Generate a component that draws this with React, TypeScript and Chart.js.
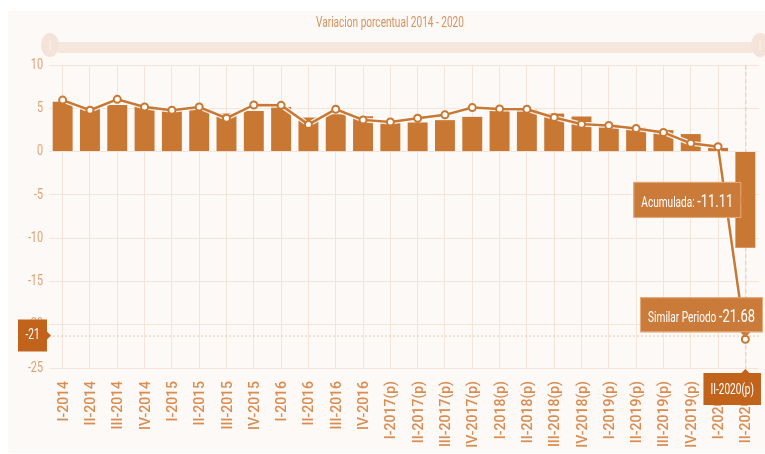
import { useEffect, useRef } from "react";
import { Chart, registerables } from "chart.js";

Chart.register(...registerables);

const titleText = "Variacion porcentual 2014 - 2020";
const categories = [
  "I-2014", "II-2014", "III-2014", "IV-2014",
  "I-2015", "II-2015", "III-2015", "IV-2015",
  "I-2016", "II-2016", "III-2016", "IV-2016",
  "I-2017(p)", "II-2017(p)", "III-2017(p)", "IV-2017(p)",
  "I-2018(p)", "II-2018(p)", "III-2018(p)", "IV-2018(p)",
  "I-2019(p)", "II-2019(p)", "III-2019(p)", "IV-2019(p)",
  "I-2020(p)", "II-2020(p)",
];
const acumulada = [
  5.75, 5.15, 5.38, 5.27, 4.77, 4.89, 4.39, 4.69, 5.15, 3.93, 4.31, 4.08,
  3.33, 3.36, 3.63, 4.01, 4.89, 4.89, 4.39, 4.05, 3.17, 2.79, 2.48, 2.02,
  0.42, -11.11,
];
const similarPeriodo = [
  5.95, 4.77, 6.03, 5.15, 4.77, 5.15, 3.85, 5.38, 5.34, 3.13, 4.89, 3.66,
  3.42, 3.85, 4.24, 5.08, 4.92, 4.89, 3.93, 3.17, 3.02, 2.67, 2.21, 0.95,
  0.57, -21.68,
];
const yTicks = [10, 5, 0, -5, -10, -15, -20, -25];
const seriesNames = ["Acumulada:", "Similar Periodo"];
const activeIndex = 25;
const pointerValue = -21.25;

const BAR = "#c97833";
const TIP = "#ca7a39";
const PTR = "#c2631c";
const GRID = "#f6e4d8";
const SQ = 0.72;
const FONT = "Roboto, 'Noto Sans', sans-serif";

function textW(ctx: CanvasRenderingContext2D, text: string, font: string) {
  ctx.save();
  ctx.font = font;
  const w = ctx.measureText(text).width * SQ;
  ctx.restore();
  return w;
}

function sqText(
  ctx: CanvasRenderingContext2D,
  text: string,
  x: number,
  y: number,
  font: string,
  color: string,
  align: "left" | "right" | "center",
  baseline: CanvasTextBaseline = "middle"
) {
  ctx.save();
  ctx.font = font;
  ctx.fillStyle = color;
  ctx.textBaseline = baseline;
  ctx.textAlign = "left";
  const w = ctx.measureText(text).width * SQ;
  let sx = x;
  if (align === "right") sx = x - w;
  else if (align === "center") sx = x - w / 2;
  ctx.translate(sx, y);
  ctx.scale(SQ, 1);
  ctx.fillText(text, 0, 0);
  ctx.restore();
  return w;
}

const decorPlugin = {
  id: "decor",
  beforeDraw(chart: any) {
    const ctx: CanvasRenderingContext2D = chart.ctx;
    ctx.save();
    ctx.fillStyle = "#ffffff";
    ctx.fillRect(0, 0, chart.width, chart.height);
    ctx.fillStyle = "#fcf9f7";
    ctx.fillRect(8, 11, chart.width - 8, chart.height - 12);
    ctx.fillStyle = "#f6e7dd";
    ctx.fillRect(58, 42, 694, 11);
    for (const hx of [50, 760]) {
      ctx.beginPath();
      ctx.ellipse(hx, 45, 9, 12, 0, 0, Math.PI * 2);
      ctx.fillStyle = "#f3e3d8";
      ctx.fill();
      ctx.strokeStyle = "#fbf3ee";
      ctx.lineWidth = 1;
      ctx.beginPath();
      ctx.moveTo(hx, 40);
      ctx.lineTo(hx, 50);
      ctx.stroke();
    }
    ctx.restore();
    sqText(ctx, titleText, 390, 26.5, `14px ${FONT}`, "#d6925f", "center", "alphabetic");
  },
  beforeDatasetsDraw(chart: any) {
    const ctx: CanvasRenderingContext2D = chart.ctx;
    const { chartArea, scales } = chart;
    const px = scales.x.getPixelForValue(activeIndex);
    const py = scales.y.getPixelForValue(pointerValue);
    ctx.save();
    ctx.strokeStyle = "#efc7a6";
    ctx.lineWidth = 1;
    ctx.setLineDash([4, 3]);
    ctx.beginPath();
    ctx.moveTo(px + 0.5, chartArea.top);
    ctx.lineTo(px + 0.5, chartArea.bottom + 2);
    ctx.stroke();
    ctx.setLineDash([2, 2]);
    ctx.beginPath();
    ctx.moveTo(chartArea.left, py + 0.5);
    ctx.lineTo(chartArea.right, py + 0.5);
    ctx.stroke();
    ctx.restore();
  },
  beforeDatasetDraw(chart: any, args: any) {
    if (args.index !== 1) return;
    const ctx: CanvasRenderingContext2D = chart.ctx;
    const pts = chart.getDatasetMeta(1).data;
    ctx.save();
    ctx.strokeStyle = "rgba(255,255,255,0.85)";
    ctx.lineWidth = 5;
    ctx.lineJoin = "round";
    ctx.beginPath();
    pts.forEach((p: any, i: number) => (i === 0 ? ctx.moveTo(p.x, p.y) : ctx.lineTo(p.x, p.y)));
    ctx.stroke();
    ctx.restore();
  },
  afterDraw(chart: any) {
    const ctx: CanvasRenderingContext2D = chart.ctx;
    const { chartArea, scales } = chart;
    for (const v of yTicks) {
      const y = scales.y.getPixelForValue(v);
      sqText(ctx, String(v), 43, y, `15px ${FONT}`, "#e0a06f", "right");
    }
    ctx.save();
    ctx.font = `500 14px ${FONT}`;
    ctx.fillStyle = "#da8b4f";
    ctx.textAlign = "right";
    ctx.textBaseline = "middle";
    categories.forEach((c, i) => {
      const x = scales.x.getPixelForValue(i);
      ctx.save();
      ctx.translate(x + 1.5, chartArea.bottom + 13);
      ctx.rotate(-Math.PI / 2);
      ctx.fillText(c, 0, 0);
      ctx.restore();
    });
    ctx.restore();

    const px = scales.x.getPixelForValue(activeIndex);
    const py = scales.y.getPixelForValue(pointerValue);

    ctx.save();
    ctx.fillStyle = PTR;
    ctx.beginPath();
    ctx.rect(18, py - 16, 29, 32);
    ctx.fill();
    ctx.beginPath();
    ctx.moveTo(47, py - 4);
    ctx.lineTo(51, py);
    ctx.lineTo(47, py + 4);
    ctx.fill();
    ctx.restore();
    sqText(ctx, String(Math.trunc(pointerValue)), 32.5, py, `14px ${FONT}`, "#ffffff", "center");

    const xl = categories[activeIndex];
    const xlw = textW(ctx, xl, `14px ${FONT}`) + 14;
    const xlx = Math.min(px - xlw / 2, chart.width - 4 - xlw);
    const xly = chartArea.bottom + 5;
    ctx.save();
    ctx.fillStyle = PTR;
    ctx.fillRect(xlx, xly, xlw, 32);
    ctx.beginPath();
    ctx.moveTo(px - 4, xly);
    ctx.lineTo(px, xly - 4);
    ctx.lineTo(px + 4, xly);
    ctx.fill();
    ctx.restore();
    sqText(ctx, xl, xlx + xlw / 2, xly + 17, `14px ${FONT}`, "#ffffff", "center");

    const bar = chart.getDatasetMeta(0).data[activeIndex];
    const v1 = acumulada[activeIndex].toFixed(2);
    const f1 = `14px ${FONT}`;
    const f2 = `18px ${FONT}`;
    const l1w = textW(ctx, seriesNames[0] + " ", f1);
    const v1w = textW(ctx, v1, f2);
    const b1w = l1w + v1w + 16;
    const b1h = 36;
    const b1cy = (bar.y + bar.base) / 2;
    const b1x = bar.x - 4 - b1w;
    const b1y = b1cy - b1h / 2;
    ctx.save();
    ctx.fillStyle = TIP;
    ctx.strokeStyle = "rgba(232,176,130,0.9)";
    ctx.lineWidth = 1;
    ctx.fillRect(b1x, b1y, b1w, b1h);
    ctx.strokeRect(b1x + 0.5, b1y + 0.5, b1w - 1, b1h - 1);
    ctx.beginPath();
    ctx.moveTo(b1x + b1w, b1cy - 5);
    ctx.lineTo(b1x + b1w + 5, b1cy);
    ctx.lineTo(b1x + b1w, b1cy + 5);
    ctx.fillStyle = TIP;
    ctx.fill();
    ctx.restore();
    sqText(ctx, seriesNames[0] + " ", b1x + 8, b1cy + 7, f1, "#ffffff", "left", "alphabetic");
    sqText(ctx, v1, b1x + 8 + l1w, b1cy + 7, f2, "#ffffff", "left", "alphabetic");

    const pt = chart.getDatasetMeta(1).data[activeIndex];
    const v2 = similarPeriodo[activeIndex].toFixed(2);
    const l2w = textW(ctx, seriesNames[1] + " ", f1);
    const v2w = textW(ctx, v2, f2);
    const b2w = l2w + v2w + 16;
    const b2h = 35;
    const b2x = Math.min(pt.x - b2w / 2, chart.width - 2 - b2w);
    const b2y = pt.y - 7 - b2h;
    ctx.save();
    ctx.fillStyle = TIP;
    ctx.strokeStyle = "rgba(232,176,130,0.9)";
    ctx.fillRect(b2x, b2y, b2w, b2h);
    ctx.strokeRect(b2x + 0.5, b2y + 0.5, b2w - 1, b2h - 1);
    ctx.beginPath();
    ctx.moveTo(pt.x - 5, b2y + b2h);
    ctx.lineTo(pt.x, b2y + b2h + 5);
    ctx.lineTo(pt.x + 5, b2y + b2h);
    ctx.fillStyle = TIP;
    ctx.fill();
    ctx.restore();
    sqText(ctx, seriesNames[1] + " ", b2x + 8, b2y + b2h / 2 + 7, f1, "#ffffff", "left", "alphabetic");
    sqText(ctx, v2, b2x + 8 + l2w, b2y + b2h / 2 + 7, f2, "#ffffff", "left", "alphabetic");
  },
};

export default function App() {
  const ref = useRef<HTMLCanvasElement | null>(null);
  useEffect(() => {
    if (!ref.current) return;
    const chart = new Chart(ref.current, {
      type: "bar",
      data: {
        labels: categories,
        datasets: [
          {
            type: "bar",
            label: seriesNames[0],
            data: acumulada,
            backgroundColor: BAR,
            borderWidth: 0,
            categoryPercentage: 1,
            barPercentage: 0.73,
            order: 2,
          },
          {
            type: "line",
            label: seriesNames[1],
            data: similarPeriodo,
            borderColor: BAR,
            borderWidth: 2.5,
            backgroundColor: "#ffffff",
            pointBackgroundColor: "#ffffff",
            pointBorderColor: BAR,
            pointBorderWidth: 2,
            pointRadius: 3.5,
            tension: 0,
            order: 1,
          } as any,
        ],
      },
      options: {
        animation: false,
        responsive: false,
        devicePixelRatio: 1,
        events: [],
        layout: { padding: { left: 0, top: 65, right: 6, bottom: 0 } },
        plugins: { legend: { display: false }, tooltip: { enabled: false } },
        scales: {
          x: {
            offset: true,
            grid: { color: GRID, offset: false, drawTicks: false },
            border: { display: false },
            ticks: { display: false },
            afterFit: (s: any) => {
              s.height = 86;
            },
          },
          y: {
            min: -25,
            max: 10,
            ticks: { display: false, stepSize: 5 },
            grid: { color: GRID, drawTicks: false },
            border: { display: false },
            afterFit: (s: any) => {
              s.width = 49;
            },
          },
        },
      },
      plugins: [decorPlugin],
    });
    return () => chart.destroy();
  }, []);
  return (
    <div style={{ position: "fixed", left: 0, top: 0, width: 765, height: 454 }}>
      <canvas ref={ref} width={765} height={454} style={{ display: "block" }} />
    </div>
  );
}
